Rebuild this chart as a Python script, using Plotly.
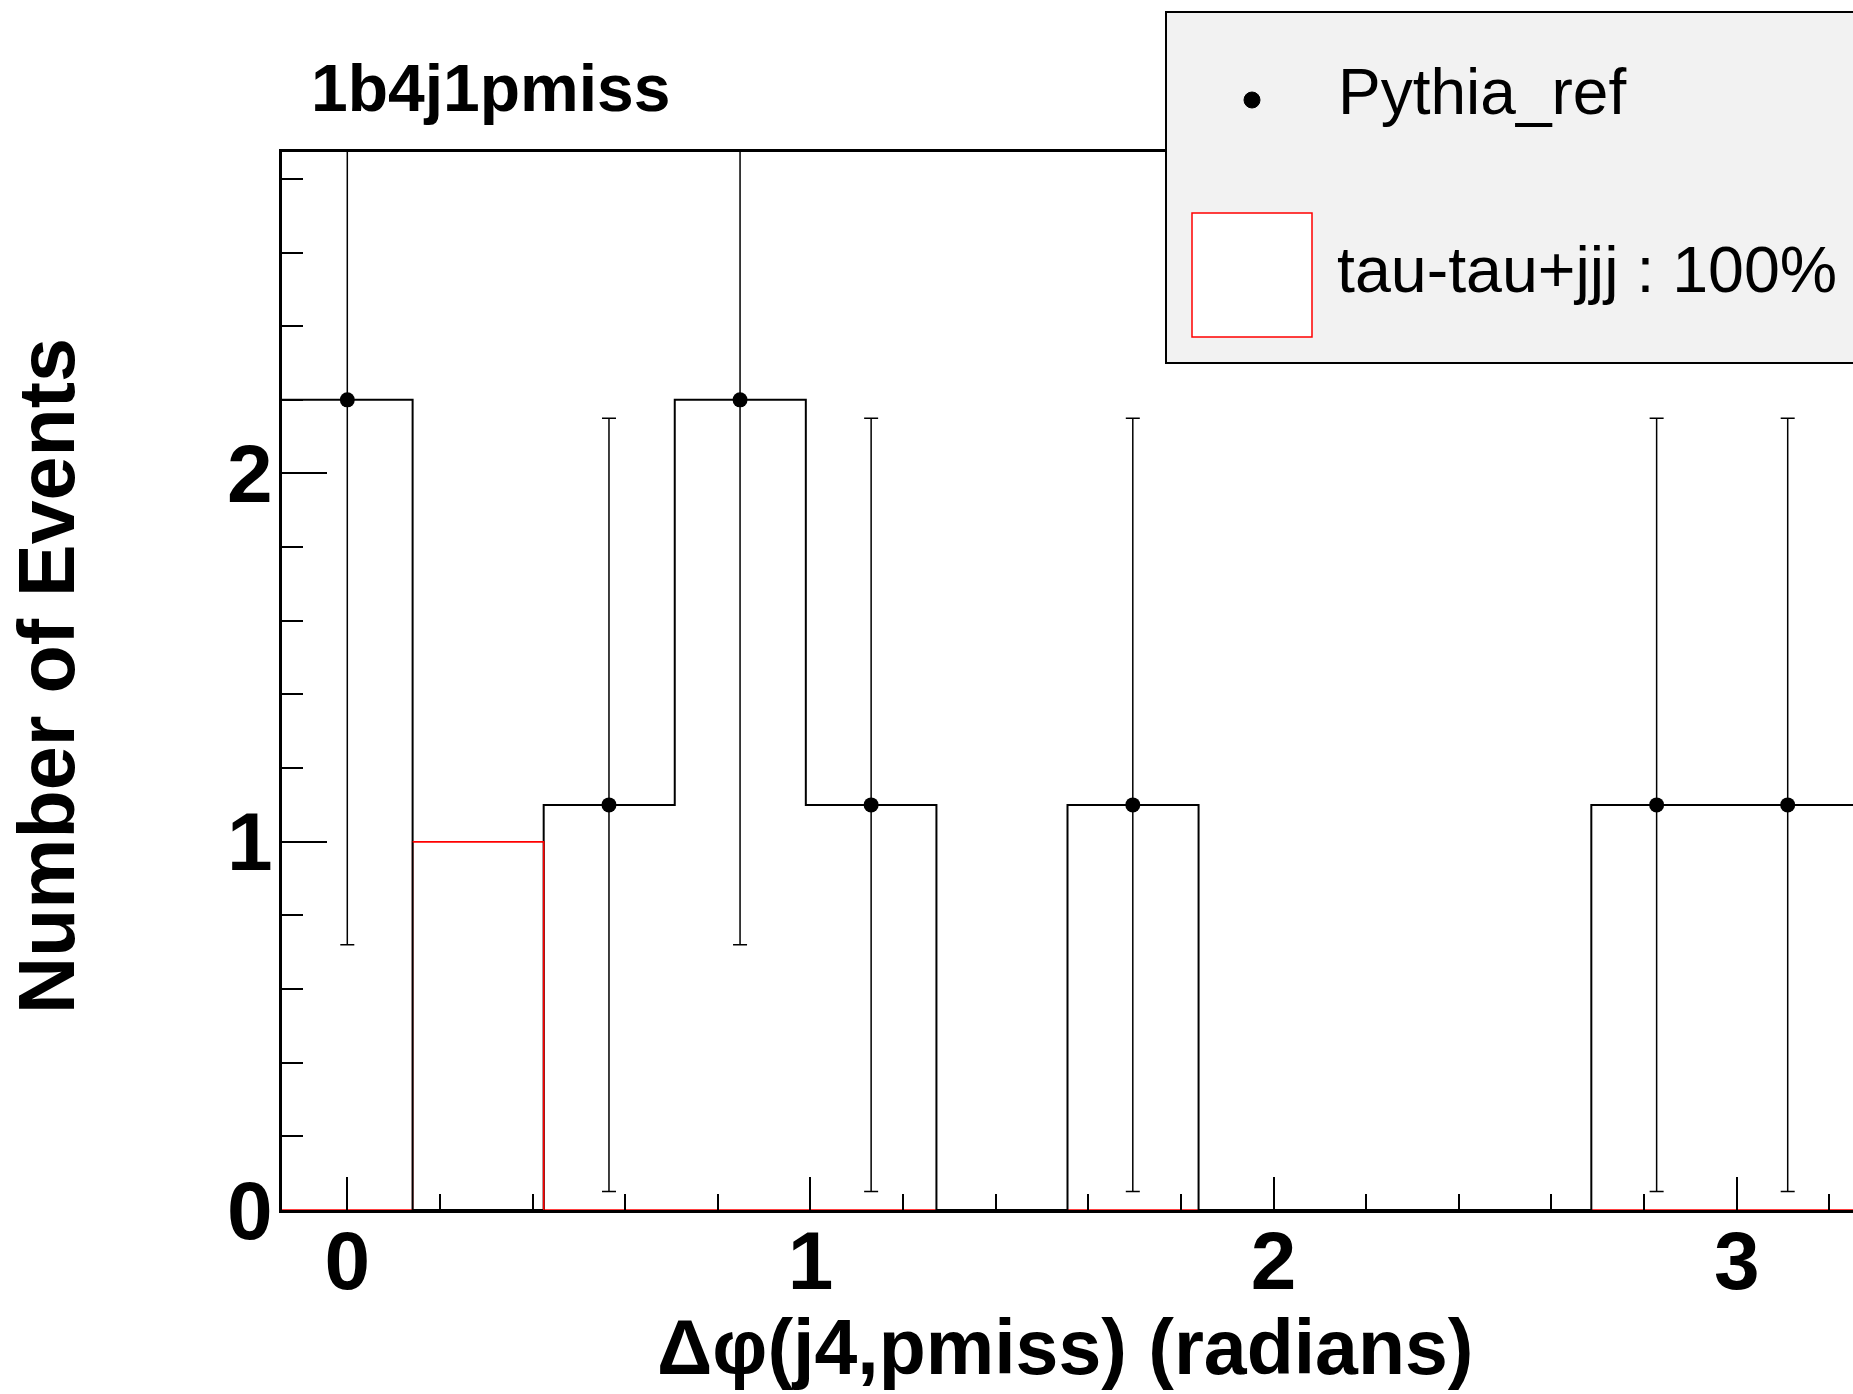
import plotly.graph_objects as go

# ---------------- data ----------------
bin_edges = [-0.141, 0.141, 0.424, 0.707, 0.990, 1.272, 1.555, 1.838,
             2.121, 2.403, 2.686, 2.969, 3.251]
pythia_counts = [2.2, 0.0, 1.1, 2.2, 1.1, 0.0, 1.1, 0.0, 0.0, 0.0, 1.1, 1.1]
tautau_counts = [0.0, 1.0, 0.0, 0.0, 0.0, 0.0, 0.0, 0.0, 0.0, 0.0, 0.0, 0.0]

# points with errors (only filled bins are drawn)
pt_x = [0.0, 0.565, 0.848, 1.131, 1.696, 2.827, 3.110]
pt_y = [2.2, 1.1, 2.2, 1.1, 1.1, 1.1, 1.1]
pt_err = [1.48, 1.05, 1.48, 1.05, 1.05, 1.05, 1.05]

legend_labels = ["Pythia_ref", "tau-tau+jjj : 100%"]
title_text = "1b4j1pmiss"
x_title = "Δφ(j4,pmiss) (radians)"
y_title = "Number of Events"

# ---------------- figure geometry (pixels) ----------------
W, H = 1853, 1394
L, R, T, B = 282, 0, 152, 184
PW, PH = W - L - R, H - T - B
FONT = "Liberation Sans, Arial, Helvetica, sans-serif"


def px(x):
    return (x - L) / PW


def py(y):
    return (H - B - y) / PH


fig = go.Figure()

# red step histogram (drawn first, axis line covers its zero level)
fig.add_scatter(x=bin_edges, y=tautau_counts + [tautau_counts[-1]],
                mode="lines", line=dict(color="red", width=1.5, shape="hv"),
                hoverinfo="skip")

# black step histogram
fig.add_scatter(x=bin_edges, y=pythia_counts + [pythia_counts[-1]],
                mode="lines", line=dict(color="black", width=2, shape="hv"),
                hoverinfo="skip")

# red on top for the filled bin edges
fig.add_scatter(x=bin_edges[1:3], y=tautau_counts[1:3],
                mode="lines", line=dict(color="red", width=1.5, shape="hv"),
                hoverinfo="skip")

# points with error bars
fig.add_scatter(x=pt_x, y=pt_y, mode="markers",
                marker=dict(color="black", size=15),
                error_y=dict(type="data", array=pt_err, visible=True,
                             color="black", thickness=1.5, width=7))

fig.update_layout(
    width=W, height=H,
    margin=dict(l=L, r=R, t=T, b=B, pad=0),
    paper_bgcolor="white", plot_bgcolor="white",
    showlegend=False,
    font=dict(family=FONT, color="black"),
    xaxis=dict(
        range=[bin_edges[0], bin_edges[-1]],
        showgrid=False, zeroline=False, layer="above traces",
        showline=True, linecolor="black", linewidth=3, mirror=True,
        ticks="inside", ticklen=33, tickwidth=2, tickcolor="black",
        tick0=0, dtick=1,
        minor=dict(ticks="inside", ticklen=16, tickwidth=2, tickcolor="black",
                   tick0=0, dtick=0.2),
        tickfont=dict(size=82, family=FONT, weight="bold"),
        ticklabelstandoff=-22,
    ),
    yaxis=dict(
        range=[0, 2.873],
        showgrid=False, zeroline=False, layer="above traces",
        showline=True, linecolor="black", linewidth=3, mirror=False,
        ticks="inside", ticklen=45, tickwidth=2, tickcolor="black",
        tick0=0, dtick=1,
        minor=dict(ticks="inside", ticklen=21, tickwidth=2, tickcolor="black",
                   tick0=0, dtick=0.2),
        tickfont=dict(size=82, family=FONT, weight="bold"),
        ticklabelstandoff=-10,
    ),
)

# title
fig.add_annotation(text=title_text, xref="paper", yref="paper",
                   x=px(309), y=py(88), xanchor="left", yanchor="middle",
                   showarrow=False,
                   font=dict(size=66, family=FONT, weight="bold"))

# axis titles
fig.add_annotation(text=x_title, xref="paper", yref="paper",
                   x=px(1065), y=py(1347), xanchor="center", yanchor="middle",
                   showarrow=False,
                   font=dict(size=77, family=FONT, weight="bold"))
fig.add_annotation(text=y_title, xref="paper", yref="paper",
                   x=px(46), y=py(676), xanchor="center", yanchor="middle",
                   textangle=-90, showarrow=False,
                   font=dict(size=79, family=FONT, weight="bold"))

# legend box
fig.add_shape(type="rect", xref="paper", yref="paper",
              x0=px(1166), x1=px(1900), y0=py(12), y1=py(363),
              line=dict(color="black", width=2), fillcolor="#f2f2f2",
              layer="above")
fig.add_shape(type="circle", xref="paper", yref="paper",
              x0=px(1244), x1=px(1260), y0=py(92), y1=py(108),
              line=dict(color="black", width=1), fillcolor="black",
              layer="above")
fig.add_shape(type="rect", xref="paper", yref="paper",
              x0=px(1192), x1=px(1312), y0=py(213), y1=py(337),
              line=dict(color="red", width=1.5), fillcolor="white",
              layer="above")
fig.add_annotation(text=legend_labels[0], xref="paper", yref="paper",
                   x=px(1336), y=py(92), xanchor="left", yanchor="middle",
                   showarrow=False, font=dict(size=64, family=FONT))
fig.add_annotation(text=legend_labels[1], xref="paper", yref="paper",
                   x=px(1335), y=py(270), xanchor="left", yanchor="middle",
                   showarrow=False, font=dict(size=64.5, family=FONT))

fig.write_html("out.html", config={"displayModeBar": False},
               post_script="document.body.style.margin='0';")
